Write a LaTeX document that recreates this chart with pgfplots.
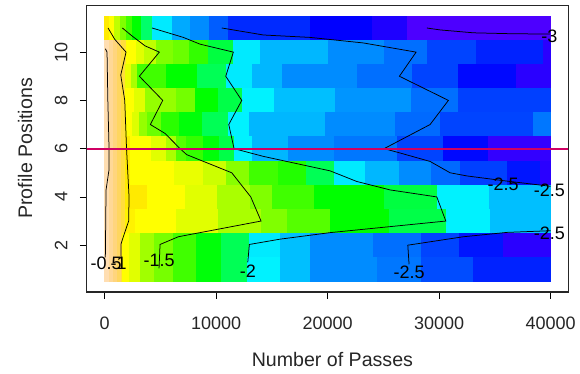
\documentclass[border=0pt]{standalone}
\usepackage{fontspec}
\setmainfont{Liberation Sans}
\usepackage[rgb]{xcolor}
\usepackage{pgfplots}
\pgfplotsset{compat=1.18}
\foreach \h in {50,...,270}{\xglobal\definecolor{H\h}{Hsb}{\h,1,1}}
\definecolor{P1}{RGB}{255,222,178}
\definecolor{P2}{RGB}{255,216,150}
\definecolor{P3}{RGB}{255,213,125}
\definecolor{P4}{RGB}{255,214,95}
\definecolor{P5}{RGB}{255,222,60}
\definecolor{redline}{RGB}{208,0,100}
\newcommand\cellrow[2]{%
  \pgfmathsetmacro\ylo{#1-0.5}\pgfmathsetmacro\yhi{#1+0.5}%
  \xdef\ylo{\ylo}\xdef\yhi{\yhi}%
  \gdef\prevx{0}%
  \foreach \e/\c in {#2}{%
    \edef\temp{\noexpand\addplot[draw=\c,line width=0.3pt,fill=\c,forget plot] coordinates {(\prevx,\ylo)(\e,\ylo)(\e,\yhi)(\prevx,\yhi)} --cycle;}\temp
    \xdef\prevx{\e}%
  }}
\begin{document}
\begin{tikzpicture}
\useasboundingbox (0,0) rectangle (580pt,373pt);
\begin{axis}[
  at={(86.7pt,81pt)},anchor=south west,
  scale only axis,width=481.7pt,height=286.7pt,
  xmin=-1600,xmax=41600,ymin=0.06,ymax=11.94,
  xtick={0,10000,20000,30000,40000},ytick={2,4,6,8,10},
  xtick pos=bottom,ytick pos=left,tick align=outside,
  major tick length=6.7pt,
  every tick/.style={black,line width=0.8pt},
  axis line style={line width=1.1pt,black!85},
  scaled x ticks=false,
  /pgf/number format/1000 sep={},
  /pgf/number format/assume math mode=true,
  tick label style={font=\fontsize{18}{20}\selectfont,black!85},
  xticklabel style={yshift=-15pt},
  yticklabel style={rotate=90,anchor=south,yshift=9pt},
  xlabel={Number of Passes},ylabel={Profile Positions},
  every axis x label/.style={at={(axis description cs:0.51,-0.235)},anchor=center,font=\fontsize{19.6}{21}\selectfont,black!85},
  every axis y label/.style={at={(axis description cs:-0.128,0.501)},anchor=center,rotate=90,font=\fontsize{19.6}{21}\selectfont,black!85},
  clip=true,
]
\cellrow{11}{430/H55,850/H60,1390/H75,1900/H90,2440/H105,3250/H120,4260/H145,6050/H185,7670/H200,9370/H207,11080/H218,18430/H230,23990/H240,27130/H247,40000/H258}
\cellrow{10}{400/P1,760/P2,1120/P3,1480/P4,1930/P5,2800/H60,3570/H67,4590/H75,6170/H90,7610/H95,9310/H108,11550/H135,13950/H185,20080/H197,25070/H207,28900/H214,33320/H224,39360/H232,40000/H250}
\cellrow{9}{400/P1,760/P2,1120/P3,1480/P4,1840/P5,2380/H65,2890/H80,5490/H105,8270/H120,10870/H140,13260/H185,15950/H197,22680/H207,27610/H214,31740/H224,36910/H238,40000/H250}
\cellrow{8}{400/P1,760/P2,1120/P3,1480/P4,1840/P5,2650/H60,3630/H67,6390/H85,8140/H93,10150/H120,12310/H137,15200/H183,20680/H195,27490/H205,31740/H214,40000/H225}
\cellrow{7}{400/P1,760/P2,1120/P3,1480/P4,1840/P5,2440/H60,3090/H68,3810/H85,5070/H95,6680/H110,8770/H122,11100/H140,12960/H183,19780/H197,26060/H207,30090/H215,38460/H224,40000/H212}
\cellrow{6}{400/P1,760/P2,1120/P3,1480/P4,1840/P5,2290/H55,4170/H60,5520/H67,6410/H80,7310/H100,8810/H108,10300/H122,11620/H137,13260/H183,16490/H197,20590/H207,26210/H212,30340/H224,34430/H238,40000/H252}
\cellrow{5}{400/P1,760/P2,1120/P3,1480/P4,1840/P5,2290/H55,6260/H60,8860/H65,10900/H72,12960/H88,15540/H105,18050/H112,20590/H140,23370/H185,26420/H197,29290/H207,31890/H215,36080/H225,39060/H235,40000/H250}
\cellrow{4}{400/P1,760/P2,1120/P3,1480/P4,1840/P5,3840/H55,7220/H60,10060/H67,13050/H80,15050/H90,18790/H105,25100/H120,29850/H135,34490/H183,40000/H195}
\cellrow{3}{400/P1,760/P2,1120/P3,1480/P4,1840/P5,2740/H57,6410/H60,10210/H67,14010/H80,16340/H90,20230/H100,25550/H120,30610/H137,34580/H183,40000/H195}
\cellrow{2}{400/P1,760/P2,1120/P3,1480/P4,1600/P5,2220/H60,3180/H67,4470/H82,6170/H92,8210/H105,10420/H122,12960/H140,15740/H185,18430/H195,24110/H207,28360/H214,31830/H224,35720/H235,40000/H250}
\cellrow{1}{400/P1,760/P2,1120/P3,1480/P4,1600/P5,2220/H60,3180/H67,4470/H82,6170/H92,8210/H105,10420/H122,12810/H140,15740/H183,18430/H195,24420/H207,28360/H212,33080/H222,40000/H232}
% contours
\addplot[black,line width=0.75pt] coordinates {(72,10.14)(224,10)(296,8)(404,6)(404,5.13)(135,4.29)(72,1.5)};
\addplot[black,line width=0.75pt] coordinates {(314,11)(915,10.53)(1929,10)(1453,9.05)(1812,8)(1973,6)(2198,4.0)(2162,3)(1633,2.28)(1480,2.05)(1480,1.46)};
\addplot[black,line width=0.75pt] coordinates {(1597,11)(2440,10.68)(3633,10.26)(4916,10)(3122,9)(5221,8)(4108,7.0)(5427,6.63)(6772,6.0)(7373,5.75)(11410,5)(13114,4)(14038,3)(6620,2.35)(4978,2.03)(4889,1.04)};
\addplot[black,line width=0.75pt] coordinates {(4261,11)(7068,10.61)(8566,10.33)(11553,10)(10871,9)(12307,8)(11141,7.0)(11616,6.0)(14244,5.68)(20227,5.08)(22622,4.64)(25609,4.29)(29798,4)(30605,3)(20227,2.52)(15742,2.25)(12988,2.03)(12845,1.29)};
\addplot[black,line width=0.75pt] coordinates {(10513,11)(14244,10.71)(18430,10.61)(23214,10.38)(27941,10)(26443,9)(30838,8)(29197,7.0)(25071,6)(26506,5.82)(29197,5.47)(30991,5)(32489,4.87)(35835,4.67)(40000,4.44)};
\addplot[black,line width=0.75pt] coordinates {(40000,2.6)(36077,2.53)(32184,2.35)(27197,2.0)(27310,1.21)};
\addplot[black,line width=0.75pt] coordinates {(28901,11)(30094,10.92)(33082,10.8)(36670,10.76)(39960,10.75)};
% horizontal line
\addplot[redline,line width=2.2pt] coordinates {(-1600,6)(41600,6)};
% contour labels
\begin{scope}[every node/.style={font=\fontsize{18}{20}\selectfont,black,inner sep=0pt}]
\node at (axis cs:135,1.25) {-0.5};
\node at (axis cs:1256,1.25) {-1};
\node at (axis cs:4889,1.35) {-1.5};
\node at (axis cs:12845,0.93) {-2};
\node at (axis cs:27310,0.86) {-2.5};
\node at (axis cs:35745,4.53) {-2.5};
\node at (axis cs:39900,4.26) {-2.5};
\node at (axis cs:39900,2.49) {-2.5};
\node at (axis cs:39900,10.65) {-3};
\end{scope}
\end{axis}
\end{tikzpicture}
\end{document}
